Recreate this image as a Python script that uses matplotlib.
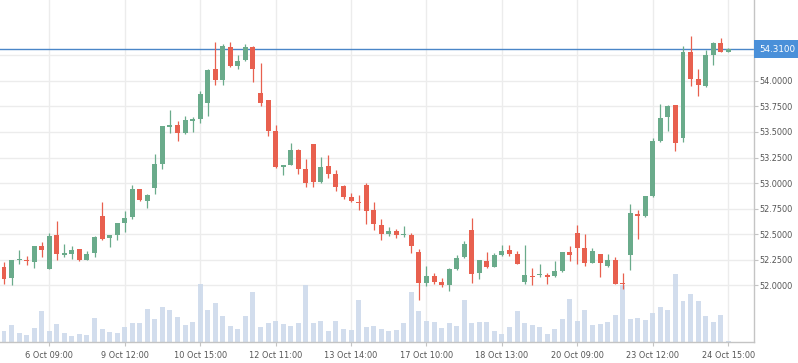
import numpy as np
import matplotlib
matplotlib.use("Agg")
import matplotlib.pyplot as plt
from matplotlib.transforms import blended_transform_factory

# ---- data ----
opens = [52.18, 52.075, 52.245, 52.24, 52.232, 52.386, 52.16, 52.493, 52.297, 52.31,
         52.356, 52.248, 52.32, 52.683, 52.464, 52.497, 52.605, 52.665, 52.94, 52.825,
         52.953, 53.188, 53.551, 53.567, 53.492, 53.606, 53.629, 53.786, 54.119, 54.011,
         54.332, 54.145, 54.204, 54.332, 53.881, 53.812, 53.508, 53.155, 53.175, 53.322,
         53.136, 53.381, 53.008, 53.165, 53.086, 52.969, 52.861, 52.812, 52.979, 52.74,
         52.595, 52.5, 52.528, 52.492, 52.496, 52.323, 52.02, 52.096, 52.036, 52.0,
         52.156, 52.275, 52.546, 52.12, 52.243, 52.177, 52.3, 52.35, 52.31, 52.03,
         52.092, 52.105, 52.101, 52.092, 52.14, 52.327, 52.513, 52.366, 52.219, 52.307,
         52.19, 52.248, 52.02, 52.30, 52.702, 52.682, 52.874, 53.412, 53.647, 53.764,
         53.441, 54.283, 54.019, 53.95, 54.253, 54.371, 54.283]
highs = [52.23, 52.25, 52.346, 52.29, 52.386, 52.425, 52.513, 52.631, 52.405, 52.386,
         52.356, 52.337, 52.484, 52.817, 52.493, 52.611, 52.729, 52.979, 52.94, 52.89,
         53.283, 53.557, 53.714, 53.606, 53.655, 53.645, 53.90, 54.12, 54.384, 54.361,
         54.384, 54.253, 54.361, 54.34, 54.175, 53.812, 53.567, 53.175, 53.391, 53.332,
         53.234, 53.381, 53.253, 53.273, 53.126, 52.979, 52.9, 52.881, 53.0, 52.815,
         52.645, 52.57, 52.556, 52.585, 52.515, 52.36, 52.194, 52.124, 52.075, 52.173,
         52.292, 52.438, 52.662, 52.252, 52.323, 52.316, 52.398, 52.39, 52.337, 52.399,
         52.17, 52.209, 52.121, 52.239, 52.327, 52.386, 52.591, 52.503, 52.366, 52.307,
         52.307, 52.278, 52.124, 52.798, 52.738, 52.875, 53.441, 53.774, 53.764, 53.764,
         54.341, 54.439, 54.116, 54.302, 54.38, 54.42, 54.32]
lows = [52.016, 52.003, 52.212, 52.2, 52.173, 52.281, 52.16, 52.248, 52.281, 52.258,
        52.242, 52.248, 52.278, 52.444, 52.376, 52.444, 52.523, 52.649, 52.825, 52.757,
        52.894, 53.139, 53.489, 53.413, 53.48, 53.502, 53.59, 53.659, 53.962, 53.962,
        54.135, 54.116, 54.194, 53.992, 53.757, 53.459, 53.145, 53.077, 53.175, 53.086,
        52.959, 52.959, 53.0, 53.047, 52.919, 52.842, 52.812, 52.733, 52.6, 52.545,
        52.44, 52.48, 52.463, 52.47, 52.313, 51.855, 51.99, 52.01, 51.988, 51.942,
        52.148, 52.27, 52.019, 52.06, 52.173, 52.177, 52.283, 52.285, 52.205, 52.017,
        52.003, 52.085, 52.013, 52.082, 52.131, 52.239, 52.212, 52.19, 52.219, 52.082,
        52.18, 52.013, 51.967, 52.15, 52.457, 52.665, 52.864, 53.402, 53.51, 53.314,
        53.402, 53.95, 53.852, 53.94, 54.155, 54.283, 54.283]
closes = [52.065, 52.248, 52.25, 52.235, 52.386, 52.35, 52.484, 52.307, 52.317, 52.346,
          52.248, 52.307, 52.474, 52.458, 52.493, 52.611, 52.66, 52.94, 52.835, 52.881,
          53.185, 53.557, 53.567, 53.492, 53.616, 53.626, 53.871, 54.11, 54.011, 54.342,
          54.145, 54.194, 54.332, 54.116, 53.783, 53.508, 53.155, 53.175, 53.322, 53.136,
          53.0, 53.008, 53.155, 53.086, 52.959, 52.861, 52.822, 52.806, 52.724, 52.597,
          52.5, 52.528, 52.49, 52.496, 52.383, 52.02, 52.096, 52.032, 52.0, 52.156,
          52.27, 52.407, 52.107, 52.244, 52.182, 52.3, 52.34, 52.31, 52.213, 52.104,
          52.085, 52.111, 52.082, 52.14, 52.327, 52.297, 52.366, 52.219, 52.34, 52.222,
          52.248, 52.013, 52.016, 52.71, 52.676, 52.875, 53.412, 53.637, 53.754, 53.392,
          54.283, 54.019, 53.96, 54.253, 54.371, 54.283, 54.31]
volumes = [34, 52, 28, 22, 43, 94, 34, 55, 28, 19, 25, 22, 73, 40, 31, 28, 46, 58, 58, 100,
           70, 106, 97, 76, 52, 61, 175, 97, 118, 79, 49, 40, 79, 151, 46, 58, 64, 55, 49, 58,
           172, 59, 65, 35, 65, 41, 38, 127, 47, 50, 41, 35, 38, 59, 152, 95, 65, 62, 44, 59,
           50, 127, 59, 62, 62, 35, 26, 47, 95, 59, 53, 47, 26, 41, 71, 131, 65, 98, 53, 56,
           62, 83, 173, 70, 73, 67, 88, 106, 97, 205, 124, 145, 124, 79, 61, 82, 4]
xtick_labels = ["6 Oct 09:00", "9 Oct 12:00", "10 Oct 15:00", "12 Oct 11:00", "13 Oct 14:00",
                "17 Oct 10:00", "18 Oct 13:00", "20 Oct 09:00", "23 Oct 12:00", "24 Oct 15:00"]
xtick_candles = [6, 16, 26, 36, 46, 56, 66, 76, 86, 96]
ytick_values = [52.0, 52.25, 52.5, 52.75, 53.0, 53.25, 53.5, 53.75, 54.0, 54.25]
last_price = 54.31

# ---- style ----
UP = "#6aab8b"
DOWN = "#e8604f"
VOL = "#cddaeb"
GRID = "#ececec"
AXC = "#c4c4c4"
TXT = "#555555"

O = np.array(opens); H = np.array(highs); L = np.array(lows); C = np.array(closes)
idx = np.arange(len(O))
cols = np.where(C >= O, UP, DOWN)

fig = plt.figure(figsize=(7.98, 3.63), dpi=100)
ax = fig.add_axes([0, 20.7 / 363, 754.3 / 798, 342.3 / 363])
ax.set_xlim(-0.53, 99.45)
ax.set_ylim(51.443, 54.791)

# volume bars in the bottom part (axes-fraction heights)
vol_scale = 1027.0
trans = blended_transform_factory(ax.transData, ax.transAxes)
ax.bar(idx, np.array(volumes) / vol_scale, width=0.66, bottom=0, transform=trans,
       color=VOL, alpha=0.9, linewidth=0, zorder=1)

# price line
ax.axhline(last_price, color="#4a86c8", lw=1.0, zorder=2)

# candles
ax.vlines(idx, L, H, colors=cols, lw=0.9, zorder=3)
body = np.maximum(np.abs(C - O), 0.009)
ax.bar(idx, body, bottom=np.minimum(O, C), width=0.66, color=cols, linewidth=0, zorder=4)

# axes styling
for s in ["left", "top"]:
    ax.spines[s].set_visible(False)
for s in ["right", "bottom"]:
    ax.spines[s].set_color(AXC)
    ax.spines[s].set_linewidth(1.0)

ax.yaxis.tick_right()
ax.set_yticks(ytick_values)
# the top tick label sits under the last-price box in the reference
ax.set_yticklabels([f"{v:.4f}" if abs(v - last_price) > 0.1 else "" for v in ytick_values])
ax.set_xticks(xtick_candles)
ax.set_xticklabels(xtick_labels)
ax.tick_params(axis="both", colors=AXC, labelcolor=TXT, labelsize=5.9, length=3, width=0.8)
ax.tick_params(axis="y", pad=1)
ax.tick_params(axis="x", pad=3)
ax.grid(True, color=GRID, lw=1.0, zorder=0)
ax.set_axisbelow(True)

# last price label box
ytrans = blended_transform_factory(ax.transAxes, ax.transData)
ax.annotate(f"{last_price:.4f}", xy=(1.0, last_price), xycoords=ytrans,
            xytext=(3.6, 0), textcoords="offset points", ha="left", va="center",
            color="white", fontsize=6.3,
            bbox=dict(boxstyle="square,pad=0.55", fc="#4a90d9", ec="none"),
            annotation_clip=False, zorder=10)

fig.savefig("out.png", dpi=100)
